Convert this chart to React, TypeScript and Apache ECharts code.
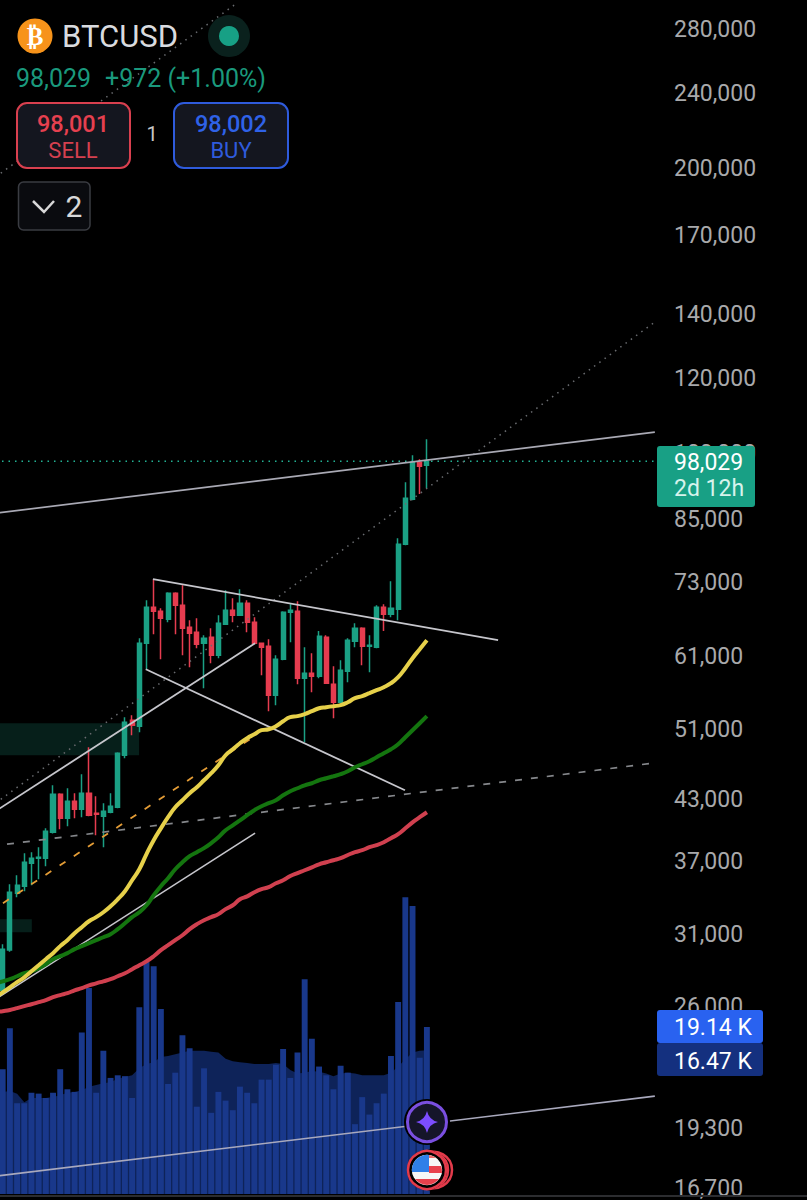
import React, { useEffect, useRef } from 'react';
import * as echarts from 'echarts';

const BAR_SLOTS = 92;

const priceTicks = [280000, 240000, 200000, 170000, 140000, 120000, 100000, 85000, 73000, 61000, 51000, 43000, 37000, 31000, 26000, 19300, 16700];

const opens = [27040, 29820, 34250, 34840, 36840, 37300, 37300, 39720, 43580, 41110, 42850, 42020, 43690, 41610, 41310, 41710, 42220, 47920, 52180, 51420, 62940, 68710, 68040, 66730, 71090, 69040, 65450, 64660, 62940, 63880, 61130, 65930, 68210, 67390, 69380, 66250, 62940, 62480, 55460, 60540, 67880, 68040, 57800, 58510, 58080, 63880, 56960, 54520, 58800, 63250, 65290, 62480, 62330, 68710, 67550, 68380, 80090, 89370, 97790, 97057];
const closes = [29890, 34330, 34920, 36930, 37300, 37390, 39820, 43580, 41110, 42850, 42020, 43690, 41410, 41510, 41820, 42330, 48150, 51930, 51550, 62940, 68710, 68040, 66900, 71090, 69040, 65290, 64500, 62790, 63720, 61130, 66090, 68210, 67390, 69380, 66250, 62940, 62330, 55460, 60540, 67880, 68210, 57800, 58510, 58080, 64020, 57100, 54520, 58940, 63400, 65290, 62480, 62630, 68710, 67550, 68540, 80090, 89590, 97790, 96840, 98029];
const lows = [26910, 29700, 33920, 34420, 34920, 35430, 36570, 39600, 40010, 40310, 41110, 41210, 41300, 39430, 38310, 41610, 42120, 47570, 50310, 50680, 59080, 64340, 60540, 66250, 64340, 61130, 59370, 62180, 56410, 59950, 60690, 65800, 66250, 67300, 64660, 62800, 58230, 53340, 54130, 60400, 63090, 56960, 49460, 55870, 57800, 57000, 52440, 54390, 57240, 62330, 59660, 58650, 62180, 64820, 67060, 66570, 79900, 89150, 90490, 91820];
const highs = [30250, 35010, 35780, 37760, 37850, 38310, 40110, 44540, 43690, 44220, 43690, 45760, 48860, 43370, 42640, 43690, 48270, 52570, 52830, 63720, 69890, 73550, 68540, 71260, 71260, 72480, 66570, 66900, 64180, 65290, 67390, 71610, 70230, 71780, 69890, 67060, 62950, 63560, 61130, 68040, 69210, 69720, 62330, 61430, 64820, 64180, 59510, 60390, 63720, 66090, 65450, 64180, 69040, 69210, 73190, 81270, 93140, 99470, 98510, 103420];

// the averages and the volume average start one slot earlier, off the left edge
const maFast = [26590, 26910, 27240, 27580, 27910, 28320, 28740, 29170, 29600, 30110, 30550, 31070, 31530, 31990, 32310, 32700, 33180, 33750, 34420, 35350, 36310, 37670, 38970, 40110, 41210, 42220, 42950, 43690, 44330, 45090, 45870, 46770, 47920, 48620, 49340, 49950, 50430, 50930, 51050, 51420, 52050, 52570, 52700, 52960, 53340, 53730, 53870, 54000, 54130, 54520, 55060, 55330, 55730, 56140, 56550, 57100, 57950, 59230, 60690, 62030, 63400];
const maMid = [27500, 27640, 27780, 27980, 28190, 28320, 28530, 28810, 29170, 29380, 29600, 29890, 30110, 30330, 30550, 30770, 31000, 31380, 31840, 32310, 32700, 33260, 34080, 34840, 35520, 36310, 36930, 37480, 37850, 38220, 38690, 39240, 39920, 40400, 40900, 41410, 41920, 42330, 42640, 42950, 43470, 43900, 44220, 44540, 44760, 45090, 45310, 45530, 45760, 46090, 46540, 46880, 47220, 47690, 48150, 48620, 49220, 50070, 50930, 51800, 52700];
const maSlow = [25640, 25700, 25770, 25890, 26020, 26140, 26270, 26400, 26590, 26730, 26850, 27040, 27180, 27370, 27500, 27640, 27780, 27980, 28190, 28460, 28740, 29020, 29380, 29820, 30180, 30550, 30920, 31380, 31760, 32070, 32310, 32550, 32950, 33260, 33750, 33990, 34330, 34590, 34760, 35090, 35350, 35710, 35970, 36220, 36480, 36750, 36930, 37110, 37300, 37590, 37850, 38030, 38310, 38500, 38780, 39160, 39540, 40110, 40700, 41210, 41710];

// volume in thousands
const volumes = [14.3, 19.0, 10.4, 10.4, 11.6, 11.5, 11.0, 11.6, 14.3, 12.0, 11.7, 18.5, 23.6, 11.6, 16.4, 13.3, 13.6, 13.5, 11.0, 21.4, 26.6, 26.1, 21.2, 12.6, 13.9, 18.2, 16.7, 10.0, 14.4, 9.3, 11.7, 10.7, 9.6, 12.3, 11.6, 10.4, 13.1, 13.1, 14.8, 16.6, 13.3, 16.2, 24.6, 17.8, 14.6, 13.6, 12.0, 14.7, 13.9, 8.0, 11.1, 9.1, 10.4, 11.5, 15.8, 22.0, 34.0, 33.0, 15.6, 19.14];
const volumeMa = [11.7, 11.7, 11.8, 11.5, 10.5, 11.0, 11.0, 11.0, 11.1, 11.3, 11.6, 11.7, 11.9, 12.3, 12.5, 12.7, 12.8, 13.2, 13.4, 13.6, 14.4, 14.9, 15.1, 15.7, 15.8, 16.0, 16.2, 16.4, 16.4, 16.4, 16.3, 16.2, 15.5, 15.2, 15.1, 15.0, 14.9, 14.9, 14.9, 15.0, 14.9, 14.2, 13.8, 13.9, 14.1, 14.0, 13.8, 13.5, 13.8, 13.9, 13.8, 13.6, 13.6, 13.6, 13.6, 13.9, 14.6, 15.4, 16.2, 16.4, 16.47];

// drawn lines: [bar position, price] at both ends
const upperResistance = [[-0.5, 86370], [91.2, 105200]];
const dottedTop = [[-0.5, 195800], [33.1, 299000]];
const dottedMid = [[-0.5, 42640], [91.2, 137540]];
const wedgeTop = [[21.4, 73550], [69.4, 63400]];
const wedgeBottom = [[20.4, 59080], [56.45, 44010]];
const channelUpper = [[-0.5, 41820], [35.6, 62940]];
const channelLower = [[-0.5, 26460], [35.6, 39640]];
const dashedGray = [[1.1, 38590], [90.8, 46990]];
const dashedOrange = [[0.54, 33430], [35.3, 50060]];
const lowerSupport = [[-0.5, 17200], [91.2, 20900]];
const lastPriceLine = [[-0.5, 98029], [91.2, 98029]];

// shaded zones: bar start, bar end, top price, bottom price
const zones = [
  [-0.5, 19.47, 51800, 47920],
  [-0.5, 4.55, 32150, 31150]
];

echarts.graphic.registerShape('star4', echarts.graphic.extendPath('M0 -11 Q2 -2 11 0 Q2 2 0 11 Q-2 2 -11 0 Q-2 -2 0 -11 Z', {}));
echarts.graphic.registerShape('flagCanton', echarts.graphic.extendPath('M-15 2 A15.1 15.1 0 0 1 2 -15 L2 2 Z', {}));
echarts.graphic.registerShape('flagTop', echarts.graphic.extendPath('M2 -15 A15.1 15.1 0 0 1 9 -12 L2 -12 Z', {}));
echarts.graphic.registerShape('flagMid', echarts.graphic.extendPath('M2 -4 L14 -4 A15.1 15.1 0 0 1 15 3 L2 3 Z', {}));
echarts.graphic.registerShape('flagBottom', echarts.graphic.extendPath('M-12 9 L12 9 A15.1 15.1 0 0 1 -12 9 Z', {}));

const trend = (data: number[][], color: string, width: number, type: any = 'solid') => ({
  type: 'line',
  xAxisIndex: 1,
  yAxisIndex: 0,
  data,
  symbol: 'none',
  silent: true,
  z: 5,
  lineStyle: { color, width, type }
});

const movingAverage = (data: number[], color: string) => ({
  type: 'line',
  xAxisIndex: 0,
  yAxisIndex: 0,
  data,
  symbol: 'none',
  smooth: 0.5,
  silent: true,
  z: 6,
  lineStyle: { color, width: 4 }
});

const font = 'Roboto';
const label = (text: string, x: number, y: number, fill: string, fontSize: number, extra: any = {}) => ({
  type: 'text',
  z: 101,
  style: { text, x, y, fill, fontSize, fontFamily: font, textVerticalAlign: 'middle', ...extra }
});
const box = (x: number, y: number, width: number, height: number, r: number, fill: string, stroke?: string, lineWidth = 2) => ({
  type: 'rect',
  z: 100,
  shape: { x, y, width, height, r },
  style: { fill, stroke, lineWidth }
});
const disc = (cx: number, cy: number, r: number, fill: string, stroke?: string, lineWidth = 0) => ({
  type: 'circle',
  z: 100,
  shape: { cx, cy, r },
  style: { fill, stroke, lineWidth }
});
const flagPart = (type: string, fill: string) => ({ type, z: 102, x: 427, y: 1170, style: { fill } });

const App = () => {
  const chartRef = useRef<HTMLDivElement>(null);

  useEffect(() => {
    document.body.style.margin = '0';
    document.body.style.background = '#000';
    const myChart = echarts.init(chartRef.current, null, { renderer: 'svg' });

    const option = {
      animation: false,
      backgroundColor: '#000',
      grid: { left: -8.09, top: 0, width: (BAR_SLOTS + 1) * 7.19, height: 1194, outerBoundsMode: 'none' },
      xAxis: [
        { type: 'category', data: Array.from({ length: BAR_SLOTS + 1 }, (_, i) => String(i - 1)), show: false },
        { type: 'value', min: -1, max: BAR_SLOTS, show: false }
      ],
      yAxis: [
        {
          type: 'log',
          position: 'right',
          min: 16470,
          max: 301210,
          splitLine: { show: false },
          axisLine: { show: false },
          axisTick: { show: false },
          axisLabel: {
            customValues: priceTicks,
            margin: 13.4,
            color: '#a8a9ab',
            fontSize: 23,
            fontFamily: font,
            formatter: (v: number) => Math.round(v).toLocaleString('en-US')
          }
        },
        { type: 'value', min: 0, max: 136.8, show: false }
      ],
      series: [
        {
          type: 'line',
          xAxisIndex: 1,
          yAxisIndex: 0,
          data: [],
          silent: true,
          z: 1,
          markArea: {
            silent: true,
            itemStyle: { color: '#061f1a' },
            data: zones.map(z => [{ coord: [z[0], z[2]] }, { coord: [z[1], z[3]] }])
          }
        },
        {
          type: 'line',
          xAxisIndex: 0,
          yAxisIndex: 1,
          data: volumeMa,
          symbol: 'none',
          silent: true,
          z: 2,
          lineStyle: { width: 0 },
          areaStyle: { color: '#0e2359', opacity: 1 }
        },
        {
          type: 'bar',
          xAxisIndex: 0,
          yAxisIndex: 1,
          data: ['-', ...volumes],
          barWidth: 5.9,
          silent: true,
          z: 3,
          itemStyle: { color: '#19388b' }
        },
        {
          type: 'candlestick',
          xAxisIndex: 0,
          yAxisIndex: 0,
          data: ['-', ...opens.map((o, i) => [o, closes[i], lows[i], highs[i]])],
          barWidth: 4.6,
          silent: true,
          z: 4,
          itemStyle: {
            color: '#1ba084',
            color0: '#e63c4f',
            borderColor: '#1ba084',
            borderColor0: '#e63c4f',
            borderWidth: 1.5
          }
        },
        trend(lastPriceLine, '#22b394', 1.4, [1.5, 5]),
        trend(dottedTop, '#6a6c70', 1.5, [1.5, 5]),
        trend(dottedMid, '#6a6c70', 1.5, [1.5, 5]),
        trend(dashedGray, '#85878b', 1.7, [7, 9]),
        trend(dashedOrange, '#e39c36', 1.8, [7, 10]),
        movingAverage(maSlow, '#d0404f'),
        movingAverage(maMid, '#14750f'),
        movingAverage(maFast, '#e6d04a'),
        trend(upperResistance, '#a9a9b4', 1.7),
        trend(wedgeTop, '#c6c6cc', 1.8),
        trend(wedgeBottom, '#c6c6cc', 1.8),
        trend(channelUpper, '#c6c6cc', 1.8),
        trend(channelLower, '#c6c6cc', 1.6),
        trend(lowerSupport, '#a9a9bd', 1.6)
      ],
      graphic: [
        disc(35, 36, 17.5, '#f7931a'),
        label('₿', 35, 36, '#fff', 25, { textAlign: 'center', fontFamily: 'DejaVu Sans', fontWeight: 'bold' }),
        label('BTCUSD', 62, 36, '#d9dbdf', 31),
        disc(229, 36, 21, '#0a211d'),
        disc(229, 36, 10, '#17a085'),
        label('98,029', 16, 78, '#1a997d', 25),
        label('+972 (+1.00%)', 105, 78, '#1a997d', 25),
        box(17, 103, 113, 65, 10, '#14161f', '#d9404f'),
        label('98,001', 73, 124, '#e6404f', 23.5, { textAlign: 'center', fontWeight: 500 }),
        label('SELL', 73, 150, '#d5404f', 22, { textAlign: 'center' }),
        label('1', 152, 134, '#c8c8c8', 20, { textAlign: 'center' }),
        box(174, 103, 114, 65, 10, '#14161f', '#2f5bdc'),
        label('98,002', 231, 124, '#2f62e8', 23.5, { textAlign: 'center', fontWeight: 500 }),
        label('BUY', 231, 150, '#2f5bdc', 22, { textAlign: 'center' }),
        box(18.5, 182, 71.5, 48, 5, '#0a0b0f', '#3a3c42', 1.5),
        {
          type: 'polyline',
          z: 101,
          shape: { points: [[33, 201], [44, 212], [54, 201]] },
          style: { stroke: '#d8d8d8', lineWidth: 2.5, fill: 'none' }
        },
        label('2', 74, 206, '#d8d8d8', 30, { textAlign: 'center' }),
        box(657, 446, 98, 61, 3, '#18a085'),
        label('98,029', 674, 462, '#ffffff', 23),
        label('2d 12h', 674, 488, '#d6f3ec', 23),
        box(657, 1010, 106, 33, 3, '#2962f0'),
        box(657, 1043, 106, 33, 3, '#14307f'),
        label('19.14 K', 674, 1027, '#ffffff', 23),
        label('16.47 K', 674, 1061, '#ffffff', 23),
        {
          type: 'line',
          z: 100,
          shape: { x1: 0, y1: 1196, x2: 807, y2: 1196 },
          style: { stroke: '#2c2d30', lineWidth: 2 }
        },
        disc(427, 1122, 23, '#000'),
        disc(427, 1122, 19.5, '#15152a', '#7a4fe0', 3),
        { type: 'star4', z: 102, x: 427, y: 1122, style: { fill: '#7c4dff' } },
        disc(433, 1170, 21, '#000'),
        disc(434, 1170, 18, '#000', '#e33b4b', 2.5),
        disc(430, 1170, 18, '#000', '#e33b4b', 2.5),
        disc(427, 1170, 20, '#000'),
        disc(427, 1170, 19, '#000', '#e33b4b', 2.5),
        disc(427, 1170, 15.2, '#f6f6f6'),
        flagPart('flagTop', '#ee6a6a'),
        flagPart('flagMid', '#e8414d'),
        flagPart('flagBottom', '#e8414d'),
        flagPart('flagCanton', '#2f7fe8')
      ]
    };

    myChart.setOption(option as any);

    return () => {
      myChart.dispose();
    };
  }, []);

  return <div ref={chartRef} style={{ width: '807px', height: '1200px' }} />;
};

export default App;
